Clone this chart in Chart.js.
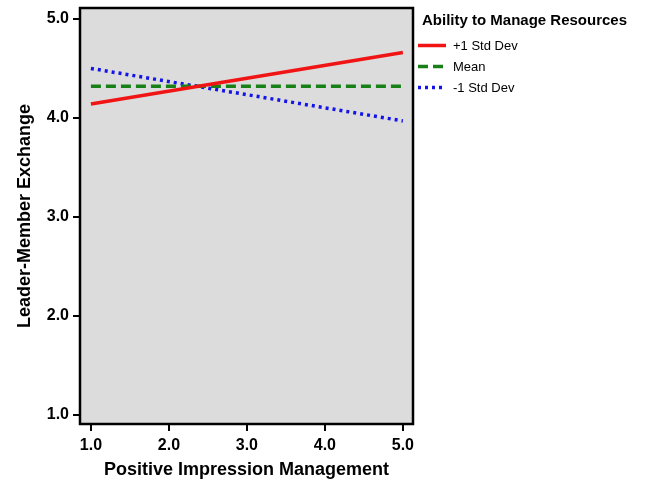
<!DOCTYPE html>
<html>
<head>
<meta charset="utf-8">
<script src="https://cdn.jsdelivr.net/npm/chart.js@4"></script>
<style>
  html, body { margin: 0; padding: 0; background: #fff; }
  #wrap { width: 650px; height: 484px; }
</style>
</head>
<body>
<div id="wrap"><canvas id="interactionChart"></canvas></div>
<script>
// values
const xValues = [1.0, 5.0];
const plusOneSd = [4.14, 4.66];
const meanLine = [4.32, 4.32];
const minusOneSd = [4.50, 3.97];
const tickValues = [1, 2, 3, 4, 5];
const seriesLabels = ['+1 Std Dev', 'Mean', '-1 Std Dev'];
const legendTitle = 'Ability to Manage Resources';

const FONT = "'Liberation Sans', Arial, sans-serif";
Chart.defaults.font.family = FONT;
Chart.defaults.color = '#000';

function toPoints(ys) {
    return xValues.map((x, i) => ({ x: x, y: ys[i] }));
}

// grey plot background plus black frame
const plotFrame = {
    id: 'plotFrame',
    beforeDraw(chart) {
        const { ctx, chartArea: a } = chart;
        ctx.save();
        ctx.fillStyle = '#dcdcdc';
        ctx.fillRect(a.left, a.top, a.width, a.height);
        ctx.restore();
    },
    afterDatasetsDraw(chart) {
        const { ctx, chartArea: a } = chart;
        ctx.save();
        ctx.strokeStyle = '#000';
        ctx.lineWidth = 2.5;
        ctx.strokeRect(a.left, a.top, a.width, a.height);
        ctx.restore();
    }
};

// legend to the right of the plot, title above the samples
const sideLegend = {
    id: 'sideLegend',
    afterDraw(chart) {
        const { ctx, chartArea } = chart;
        const x0 = chartArea.right + 5;
        ctx.save();
        ctx.fillStyle = '#000';
        ctx.textBaseline = 'middle';
        ctx.textAlign = 'left';
        ctx.font = 'bold 15px ' + FONT;
        ctx.fillText(legendTitle, x0 + 4, 20.5);
        ctx.font = '13px ' + FONT;
        chart.data.datasets.forEach((ds, i) => {
            const y = 45.5 + i * 21;
            ctx.strokeStyle = ds.borderColor;
            ctx.lineWidth = ds.borderWidth;
            ctx.setLineDash(ds.borderDash || []);
            ctx.beginPath();
            ctx.moveTo(x0, y);
            ctx.lineTo(x0 + 28, y);
            ctx.stroke();
            ctx.setLineDash([]);
            ctx.fillText(ds.label, x0 + 35, y + 0.5);
        });
        ctx.restore();
    }
};

function fixedTicks(scale) {
    scale.ticks = tickValues.map(v => ({ value: v }));
}

const ctx = document.getElementById('interactionChart').getContext('2d');

new Chart(ctx, {
    type: 'line',
    data: {
        datasets: [
            {
                label: seriesLabels[0],
                data: toPoints(plusOneSd),
                borderColor: '#f01414',
                borderWidth: 3.5,
                pointRadius: 0
            },
            {
                label: seriesLabels[1],
                data: toPoints(meanLine),
                borderColor: '#178017',
                borderWidth: 3.5,
                borderDash: [10, 5],
                pointRadius: 0
            },
            {
                label: seriesLabels[2],
                data: toPoints(minusOneSd),
                borderColor: '#1414e6',
                borderWidth: 3.5,
                borderDash: [3, 4],
                pointRadius: 0
            }
        ]
    },
    options: {
        responsive: true,
        maintainAspectRatio: false,
        animation: false,
        layout: {
            padding: { top: 8, right: 237, bottom: 0, left: 0 }
        },
        plugins: {
            legend: { display: false },
            tooltip: { enabled: false }
        },
        scales: {
            x: {
                type: 'linear',
                min: 0.86,
                max: 5.13,
                afterBuildTicks: fixedTicks,
                afterFit(scale) {
                    scale.height = 60;
                    scale.paddingLeft = 0;
                    scale.paddingRight = 0;
                },
                border: { display: false },
                grid: {
                    drawOnChartArea: false,
                    drawTicks: true,
                    tickLength: 7,
                    color: '#000',
                    lineWidth: 2
                },
                ticks: {
                    padding: 4.5,
                    maxRotation: 0,
                    font: { size: 16, weight: 'bold' },
                    callback: v => Number(v).toFixed(1)
                },
                title: {
                    display: true,
                    text: 'Positive Impression Management',
                    font: { size: 18, weight: 'bold' },
                    padding: { top: 0, bottom: 3 }
                }
            },
            y: {
                min: 0.91,
                max: 5.11,
                afterBuildTicks: fixedTicks,
                afterFit(scale) {
                    scale.width = 80;
                    scale.paddingTop = 0;
                    scale.paddingBottom = 0;
                },
                border: { display: false },
                grid: {
                    drawOnChartArea: false,
                    drawTicks: true,
                    tickLength: 7,
                    color: '#000',
                    lineWidth: 2
                },
                ticks: {
                    padding: 4,
                    font: { size: 16, weight: 'bold' },
                    callback: v => Number(v).toFixed(1)
                },
                title: {
                    display: true,
                    text: 'Leader-Member Exchange',
                    font: { size: 18, weight: 'bold' },
                    padding: { top: 14, bottom: 0 }
                }
            }
        }
    },
    plugins: [plotFrame, sideLegend]
});
</script>
</body>
</html>
